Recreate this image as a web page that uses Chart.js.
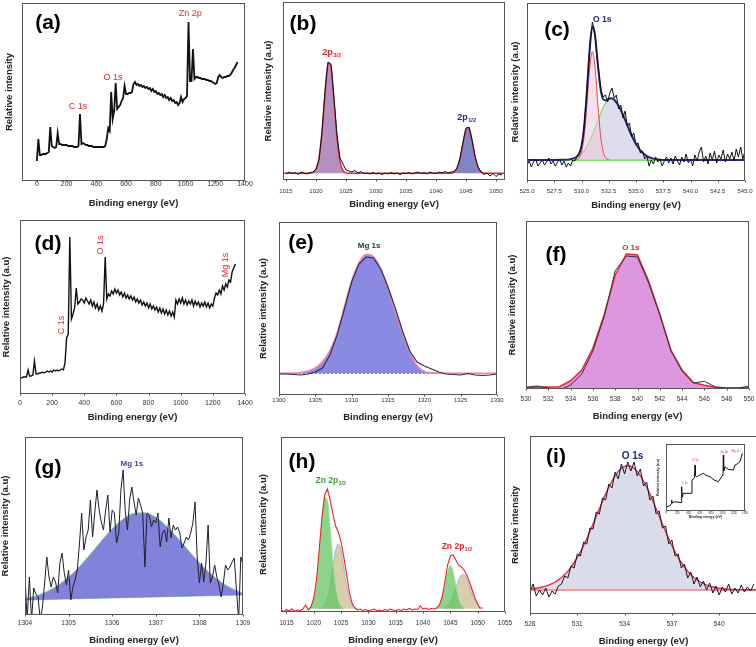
<!DOCTYPE html>
<html><head><meta charset="utf-8">
<script src="https://cdn.jsdelivr.net/npm/chart.js@4.4.1/dist/chart.umd.min.js"></script>
<style>
html,body{margin:0;padding:0;background:#fff;}
body{width:756px;height:647px;overflow:hidden;position:relative;}
canvas{position:absolute;}
</style></head><body>
<script>
// ---------------- DATA ----------------
// (a) survey, 0..1350 eV step 10
const aStart = 0, aStep = 10;
const aY = [20,42,26,26,27,27,27,28,29,54, 35,34,33,34,48,37,37,36,36,36, 36,35,35,35,35,34,34,34,35,67,
  37,38,37,36,36,35,35,35,34,34, 34,34,34,34,34,34,35,42,53,50, 89,62,70,98,72,74,76,80,83,95,
  87,87,88,88,89,97,99,96,97,95, 96,94,95,93,94,92,93,90,92,89, 90,87,88,86,87,84,86,83,84,81,
  83,80,81,78,79,76,78,84,79,82, 83,85,159,100,100,132,102,104,104,103, 103,102,102,102,101,101,100,100,99,98,
  97,98,104,106,104,103,104,104,105,105, 106,108,111,113,116,119];
const aTicks = [0,200,400,600,800,1000,1200,1400];
const aLabels = [{x:276,y:74,t:'C 1s'},{x:512,y:103,t:'O 1s'},{x:1031,y:167,t:'Zn 2p'}];

// (b) Zn 2p
const bStart = 1015, bStep = 0.5;
const bY = [6,8,6.5,7.5,5.5,8,7,6,7.5,8, 11,20,48,88,118,116,82,45,22,16, 10,9,8,9.5,7,8.5,6.5,7,6,7.5,
  6,7,5.5,7,6,7.5,6,7,5.5,7, 6.5,7.5,6,7,8,6.5,7.5,6,8,7, 6.5,8,7,8.5,7,8,8.5,12,22,38,
  52,53,40,24,13,8,5.5,7,4,6.5, 3.5,6,5];
const bFitX = [1014.5,1019,1019.5,1020,1020.5,1021,1021.5,1022,1022.5,1023,1023.5,1024,1024.5,1025,1025.5,1042.5,1043,1043.5,1044,1044.5,1045,1045.5,1046,1046.5,1047,1047.5,1048,1048.5,1051.5];
const bFitY = [6.7,6.7,7.4,10.7,22.0,48.4,87.2,116.6,112.9,79.3,41.7,18.7,9.6,7.2,6.7,6.7,7.9,11.7,21.2,36.7,50.6,52.1,40.0,23.9,13.0,8.3,7.0,6.7,6.7];
const bP1X = [1019.5,1020,1020.5,1021,1021.5,1022,1022.5,1023,1023.5,1024,1024.5,1025];
const bP1Y = [7.4,10.7,22.0,48.4,87.2,116.6,112.9,79.3,41.7,18.7,9.6,7.2];
const bP2X = [1043,1043.5,1044,1044.5,1045,1045.5,1046,1046.5,1047,1047.5,1048];
const bP2Y = [7.9,11.7,21.2,36.7,50.6,52.1,40.0,23.9,13.0,8.3,7.0];
const bTicks = [1015,1020,1025,1030,1035,1040,1045,1050];

// (c) O 1s (ZnO)
const cStart = 525, cStep = 0.2;
const cY = [16,20,14,19,22,15,18,21,16,19, 23,17,20,15,19,22,16,20,14,18,
  15,21,20,25,27,34,50,76,108,140, 159,150,126,108,90,84,86,79,88,93,
  83,86,72,76,63,70,55,58,44,48, 36,38,28,30,22,25,15,21,17,24,
  19,22,15,20,24,18,23,17,25,20, 16,24,19,27,18,22,15,26,20,29,
  34,19,25,17,28,21,30,18,26,22, 31,19,27,22,29,20,32,24,34,22, 30];
const cCompX = [528.5,529,529.5,529.75,530,530.25,530.5,530.75,531,531.25,531.5,531.75,532,532.25,532.5,532.75,533,533.5,534,534.5,535,535.5,536,536.5,537,537.5];
const cGreenY = [21.2,21.9,23.5,25.1,27.3,30.4,34.6,39.8,46,53,60.4,67.5,73.9,78.9,82,82.7,81.3,73.4,61.1,48,37,29.3,24.8,22.6,21.5,21.1];
const cEnvX = [525,528.5,529,529.5,529.75,530,530.25,530.5,530.75,531,531.25,531.5,531.75,532,532.25,532.5,532.75,533,533.5,534,534.5,535,535.5,536,536.5,537,537.5,545];
const cEnvY = [21,21.2,21.9,23.8,26.8,35,54.9,90.6,131.6,154.3,144.8,116.4,92,81.6,80.6,82.3,82.7,81.3,73.4,61.1,48,37,29.3,24.8,22.6,21.5,21.1,21];
const cRedX = [529.5,529.75,530,530.25,530.5,530.75,531,531.25,531.5,531.75,532,532.25,532.5];
const cRedY = [21.3,22.7,28.7,45.5,77,112.8,129.3,112.8,77,45.5,28.7,22.7,21.3];
const cTicks = [525,527.5,530,532.5,535,537.5,540,542.5,545];

// (d) survey, 0..1340 step 10
const dStart = 0, dStep = 10;
const dY = [16,16,17,17,17,24,18,18,19,33, 20,20,21,21,22,21,22,23,22,23, 22,24,23,24,23,24,25,24,31,56,
  60,157,75,80,86,106,90,92,95,94, 91,96,93,90,94,88,92,86,90,84, 88,83,90,137,95,100,98,103,100,105,
  101,104,99,102,97,101,96,99,95,98, 94,97,92,95,91,94,89,92,88,91, 86,90,85,88,84,87,82,86,81,85,
  80,84,79,83,78,82,77,94,90,95, 91,96,90,94,89,93,90,94,88,93, 89,92,87,91,88,92,87,91,86,90,
  88,96,101,99,104,100,108,104,110,107, 114,112,122,126,130];
const dLabels = [{x:259,y:69,t:'C 1s',rot:true},{x:498,y:149,t:'O 1s',rot:true},{x:1276,y:129,t:'Mg 1s',rot:true}];

// (e) Mg 1s (MgO)
const eStart = 1300, eStep = 1;
const eFit = [21.7,21.7,21.8,22.3,23.8,27,33.3,44,62,88,114,132,140.5,138,126,107,84,62,43,29,23.5,22.3,22,21.7,21.7,21.7,21.7,21.7,21.7,21.7,21.7];
const eY = [21,21,20.5,20,21,23,27,40,60,86,113,131,138,137,126,108,87,64,44,33,29,26,23,21,20.5,20,21.5,20,19.5,20,21];
const eTicks = [1300,1305,1310,1315,1320,1325,1330];

// (f) O 1s (MgO)
const fStart = 530, fStep = 1;
const fFit = [1.5,2,2,2.3,8.3,19,41,74,114,135,134,108,75,39,19,6.5,3.7,1.7,1,1,1.5];
const fY = [1.7,3,1,-1.3,4,15,38,72,118,133,132,106,74,38,18,6,7.7,2,1,1,2.7];
const fTicks = [530,532,534,536,538,540,542,544,546,548,550];

// (g) Mg 1s (composite)
const gStart = 1304, gStep = 0.05;
const gY = [38,-5,38,-5,27,21,18,-5,8,32, 58,38,28,38,33,22,52,62,42,30,
  45,15,28,35,45,72,102,65,78,85, 115,78,102,125,105,93,85,105,120,83,
  105,102,72,82,125,145,103,85,115,128, 113,100,117,110,102,48,102,100,88,95,
  92,102,68,82,85,73,97,77,90,85, 88,82,67,72,78,75,82,92,113,57,
  32,52,33,52,90,32,38,50,38,30, 18,32,50,45,48,53,57,25,-5,58, 50];
const gFitStart = 1304, gFitStep = 0.25;
const gFit = [16.5,19,23.5,29.7,38,48.5,60.9,74,86.3,96,101.7,102.2,97.7,88.8,77.2,64.6,52.2,41.5,33,26.5,22];
const gBase = [15,15.25,15.5,15.75,16,16.25,16.5,16.75,17,17.25,17.5,17.75,18,18.25,18.5,18.75,19,19.25,19.5,19.75,20];
const gTicks = [1304,1305,1306,1307,1308,1309];

// (h) Zn 2p (composite)
const hStart = 1014, hStep = 0.5;
const hY = [2,0.5,2.5,1,3,0.5,2,1.5,3,7, 2,5,14,32,62,95,117,123,112,98, 86,80,70,55,38,20,9,4,2,3,
  1.5,2.5,1,2,3,1.5,2,1,2.5,1.5, 3,2,1.5,2.5,1.5,3,2,3.5,2,3, 2.5,6,3,4,2.5,3.5,3,4,7,15,
  30,47,56,57,52,47,45,42,37,30, 22,14,8,3];
const hC1 = [4.0,6.3,13.4,30.0,58.5,92.1,114.4,111.7,85.6,52.0,25.8,11.3,5.5,3.8];       // from 1019
const hC2 = [3.6,4.4,7.1,13.9,26.7,44.6,61.4,68.3,61.4,44.6,26.7,13.9,7.1,4.4,3.5];      // from 1021
const hC3 = [4.2,7.0,14.1,26.7,40.5,46.7,40.5,26.7,14.1,7.0,4.2];                        // from 1042.5
const hC4 = [4.7,6.7,10.5,16.5,24.2,31.8,36.8,37.3,33.1,25.8,17.9,11.5,7.3,5.0,3.9];     // from 1044
const hTicks = [1015,1020,1025,1030,1035,1040,1045,1050,1055];

// (i) O 1s (composite)
const iStart = 528, iStep = 0.2;
const iY = [22,30,18,24,19,26,17,23,20,28, 30,38,36,48,46,60,58,72,70,86,
  85,102,100,116,114,130,126,142,135,150, 140,152,143,152,138,145,128,132,114,118,
  100,103,86,88,70,74,58,60,46,50, 36,42,30,37,27,33,24,31,21,28,
  19,27,22,30,20,26,21,29,22,27, 23,30];
const iFit = [25.0,25.4,25.8,26.3,27.0,27.9,28.9,30.3,32.0,34.1,36.5,39.4,42.9,46.9,51.5,56.5,62.2,68.6,75.3,82.5,
  89.9,97.6,105.3,112.8,120.2,127.0,133.0,138.3,142.6,145.7,147.7,148.3,
  147.7,145.7,142.6,138.3,133.0,127.0,120.2,112.8,105.3,97.6,89.9,82.5,75.3,68.6,62.2,56.5,51.5,46.9,42.9,39.4,
  36.5,34.1,32.0,30.3,28.9,27.9,27.0,26.3,25.8,25.4,25.0, 24.8,24.6,24.5,24.4,24.4,24.3,24.3,24.3,24.3];
const iTicks = [528,531,534,537,540];

// inset survey
const inX = [12,60,100,101,110,160,270,278,285,307,455,460,505,514,523,544,600,661,700,780,850,927,987,1010,1016,1022,1046,1104,1193,1223,1260,1311,1352];
const inY = [4.3,5,7.7,11,8,9.3,8.3,24.3,14,17.7,17.7,31,33,46,35,34.3,36,37.7,36,34.3,31,29.3,34.3,36,56,40,44.3,41.7,41,46,47,49.3,57.7];
const inTicks = [0,200,400,600,800,1000,1200,1400];

// ---------------- HELPERS ----------------
const FONT = '"Liberation Sans", Arial, Helvetica, sans-serif';
const RED = '#e8262f', NAVY = '#23287c';
function seq(start, step, ys) { return ys.map((y, i) => ({x: +(start + step * i).toFixed(4), y})); }
function pairs(xs, ys) { return ys.map((y, i) => ({x: xs[i], y})); }
function line(data, color, width, extra) {
  return Object.assign({data, borderColor: color, borderWidth: width, pointRadius: 0, pointHoverRadius: 0, fill: false, tension: 0}, extra || {});
}

const decor = {
  id: 'decor',
  afterDraw(chart, args, o) {
    const ctx = chart.ctx, a = chart.chartArea, xs = chart.scales.x, ys = chart.scales.y;
    ctx.save();
    const l = Math.round(a.left) + 0.5, r = Math.round(a.right) - 0.5, t = Math.round(a.top) + 0.5, b = Math.round(a.bottom) - 0.5;
    ctx.strokeStyle = o.frame || '#555'; ctx.lineWidth = 1;
    ctx.strokeRect(l, t, r - l, b - t);
    const tl = o.tickLen == null ? 2 : o.tickLen;
    ctx.beginPath();
    xs.ticks.forEach(tk => { const px = Math.round(xs.getPixelForValue(tk.value)) + 0.5; ctx.moveTo(px, b); ctx.lineTo(px, b + tl); });
    ctx.stroke();
    if (o.letter) {
      ctx.font = 'bold 21px ' + FONT; ctx.fillStyle = '#000'; ctx.textAlign = 'center'; ctx.textBaseline = 'middle';
      ctx.fillText(o.letter.t, a.left + o.letter.dx, a.top + o.letter.dy);
    }
    (o.labels || []).forEach(lb => {
      const px = xs.getPixelForValue(lb.x), py = ys.getPixelForValue(lb.y);
      const sz = lb.s || o.labelSize || 9, wt = (lb.w || o.labelWeight || 'normal');
      ctx.save(); ctx.translate(px, py); if (lb.rot) ctx.rotate(-Math.PI / 2);
      ctx.fillStyle = lb.c || o.labelColor || RED; ctx.textBaseline = 'middle'; ctx.textAlign = 'left';
      const f1 = wt + ' ' + sz + 'px ' + FONT, f2 = wt + ' ' + (sz * 0.62).toFixed(1) + 'px ' + FONT;
      ctx.font = f1; const w1 = ctx.measureText(lb.t).width;
      let w2 = 0; if (lb.sub) { ctx.font = f2; w2 = ctx.measureText(lb.sub).width + 0.5; }
      const x0 = -(w1 + w2) / 2;
      ctx.font = f1; ctx.fillText(lb.t, x0, 0);
      if (lb.sub) { ctx.font = f2; ctx.fillText(lb.sub, x0 + w1 + 0.5, sz * 0.32); }
      ctx.restore();
    });
    ctx.restore();
  }
};
Chart.register(decor);

function panel(p) {
  const g = p.geo, tf = p.titleSize || 9.5, lh = tf * 1.2, tk = p.tickSize || 6.5, tlh = tk * 1.2;
  const cLeft = Math.round(g.yt - lh / 2), cTop = g.T - 2, cRight = g.R + 14, cBottom = Math.round(g.xt + lh / 2);
  const W = cRight - cLeft, H = cBottom - cTop, wY = g.L - cLeft, hX = cBottom - g.B;
  const cv = document.createElement('canvas');
  cv.width = W; cv.height = H;
  cv.style.left = cLeft + 'px'; cv.style.top = cTop + 'px'; cv.style.width = W + 'px'; cv.style.height = H + 'px';
  document.body.appendChild(cv);
  new Chart(cv, {
    type: 'line',
    data: {datasets: p.datasets},
    options: {
      responsive: false, animation: false, devicePixelRatio: 1,
      events: [],
      layout: {padding: {top: 2, right: 14, left: 0, bottom: 0}},
      plugins: {legend: {display: false}, tooltip: {enabled: false},
        decor: {letter: p.letter, labels: p.labels, labelSize: p.labelSize, labelWeight: p.labelWeight, labelColor: p.labelColor, tickLen: p.tickLen, frame: p.frame}},
      scales: {
        x: {type: 'linear', min: p.xmin, max: p.xmax,
          afterBuildTicks: s => { s.ticks = p.ticks.map(v => ({value: v})); },
          ticks: {font: {family: FONT, size: tk}, color: '#333', padding: g.tc - g.B - tlh / 2, maxRotation: 0, autoSkip: false,
            callback: p.fmt || (v => String(v))},
          grid: {display: false, drawTicks: false}, border: {display: false},
          title: {display: true, text: p.xtitle || 'Binding energy (eV)', font: {family: FONT, size: tf, weight: 'bold'}, color: '#222', padding: {top: 0, bottom: 0}},
          afterFit: s => { s.height = hX; s.paddingLeft = 0; s.paddingRight = 0; }},
        y: {type: 'linear', min: 0, max: g.B - g.T,
          ticks: {display: false}, grid: {display: false, drawTicks: false}, border: {display: false},
          title: {display: true, text: p.ytitle, font: {family: FONT, size: tf, weight: 'bold'}, color: '#222', padding: {top: 0, bottom: 0}},
          afterFit: s => { s.width = wY; s.paddingTop = 0; s.paddingBottom = 0; }}
      }
    }
  });
}

const YT = 'Relative intensity (a.u)';
const mono = {cubicInterpolationMode: 'monotone'};

// (a)
panel({geo: {L: 22, R: 245, T: 3, B: 181, yt: 10, xt: 203, tc: 184.5}, xmin: -100, xmax: 1400, ticks: aTicks, tickSize: 7,
  ytitle: 'Relative intensity', letter: {t: '(a)', dx: 26, dy: 20}, labels: aLabels, labelSize: 9,
  datasets: [line(seq(aStart, aStep, aY), '#111', 1.8)]});

// (b)
panel({geo: {L: 283, R: 505, T: 2, B: 180, yt: 269, xt: 204, tc: 191.5}, xmin: 1014.5, xmax: 1051.5, ticks: bTicks, tickSize: 6,
  ytitle: YT, letter: {t: '(b)', dx: 20, dy: 22}, labelWeight: 'bold',
  labels: [{x: 1022.6, y: 127.3, t: '2p', sub: '3/2', c: RED, s: 9}, {x: 1045.1, y: 62.7, t: '2p', sub: '1/2', c: NAVY, s: 9}],
  datasets: [
    line(seq(bStart, bStep, bY), '#111', 1),
    line(pairs(bFitX, bFitY), RED, 1.4, mono),
    line(pairs(bP1X, bP1Y), 'rgba(0,0,0,0)', 0, Object.assign({fill: {value: 6.7}, backgroundColor: 'rgba(165,118,178,0.82)'}, mono)),
    line(pairs(bP2X, bP2Y), 'rgba(0,0,0,0)', 0, Object.assign({fill: {value: 6.7}, backgroundColor: 'rgba(104,104,188,0.82)'}, mono))
  ]});

// (c)
panel({geo: {L: 527, R: 745, T: 3, B: 181, yt: 516, xt: 205, tc: 191}, xmin: 525, xmax: 545, ticks: cTicks, tickSize: 6,
  fmt: v => v.toFixed(1), ytitle: YT, letter: {t: '(c)', dx: 30, dy: 27}, labelWeight: 'bold',
  labels: [{x: 531.9, y: 161, t: 'O 1s', c: NAVY, s: 8.5}],
  datasets: [
    line(seq(cStart, cStep, cY), '#111', 1),
    line(pairs(cEnvX, cEnvY), NAVY, 2, mono),
    line(pairs(cRedX, cRedY), '#e8404f', 1, Object.assign({fill: {value: 21}, backgroundColor: 'rgba(236,200,215,0.55)'}, mono)),
    line(pairs(cCompX, cGreenY), '#74dc62', 1.2, Object.assign({fill: {value: 21}, backgroundColor: 'rgba(200,200,226,0.62)'}, mono)),
    line(pairs([528, 538], [21, 21]), '#7be06a', 2),
    line(pairs([525, 545], [21, 21]), NAVY, 2)
  ]});

// (d)
panel({geo: {L: 20, R: 245, T: 220, B: 394, yt: 7, xt: 417, tc: 403}, xmin: 0, xmax: 1400, ticks: aTicks, tickSize: 7,
  ytitle: YT, letter: {t: '(d)', dx: 28, dy: 24}, labels: dLabels, labelSize: 9,
  datasets: [line(seq(dStart, dStep, dY), '#111', 1.4)]});

// (e)
panel({geo: {L: 279, R: 497, T: 222, B: 395, yt: 264, xt: 417, tc: 400.5}, xmin: 1300, xmax: 1330, ticks: eTicks, tickSize: 6,
  ytitle: YT, letter: {t: '(e)', dx: 22, dy: 21}, labelWeight: 'bold',
  labels: [{x: 1312.4, y: 149, t: 'Mg 1s', c: '#333', s: 8}],
  datasets: [
    line(seq(eStart, eStep, eY), '#2b2b45', 1.1),
    line(seq(eStart, eStep, eFit), 'rgba(236,130,175,0.9)', 1.8, Object.assign({fill: {value: 21.7}, backgroundColor: 'rgba(118,118,222,0.85)'}, mono)),
    line(pairs([1300, 1330], [21.7, 21.7]), '#e03050', 1, {borderDash: [2, 2]})
  ]});

// (f)
panel({geo: {L: 526, R: 749, T: 221, B: 389, yt: 513, xt: 416, tc: 399}, xmin: 530, xmax: 550, ticks: fTicks,
  ytitle: YT, letter: {t: '(f)', dx: 30, dy: 34}, labelWeight: 'bold',
  labels: [{x: 539.4, y: 141, t: 'O 1s', c: RED, s: 8}],
  datasets: [
    line(seq(fStart, fStep, fY), '#333', 1),
    line(seq(fStart, fStep, fFit), '#ec2535', 1.4, {fill: {value: 0.3}, backgroundColor: 'rgb(222,150,222)'}),
    line(pairs([530, 550], [0.3, 0.3]), '#6ee06e', 1.5)
  ]});

// (g)
panel({geo: {L: 25, R: 243, T: 437, B: 615, yt: 6, xt: 640, tc: 623}, xmin: 1304, xmax: 1309, ticks: gTicks,
  ytitle: YT, letter: {t: '(g)', dx: 23, dy: 31}, labelWeight: 'bold',
  labels: [{x: 1306.45, y: 151.7, t: 'Mg 1s', c: '#4242a0', s: 8}],
  datasets: [
    line(seq(gStart, gStep, gY), '#1e1e2e', 1),
    line(seq(gFitStart, gFitStep, gFit), '#8ed88e', 1, Object.assign({fill: '+1', backgroundColor: 'rgba(108,108,212,0.85)'}, mono)),
    line(seq(gFitStart, gFitStep, gBase), '#8ed88e', 1)
  ]});

// (h)
panel({geo: {L: 281, R: 505, T: 437, B: 612, yt: 264, xt: 640, tc: 623}, xmin: 1014, xmax: 1055, ticks: hTicks,
  ytitle: YT, letter: {t: '(h)', dx: 21, dy: 25}, labelWeight: 'bold',
  labels: [{x: 1023.1, y: 131.3, t: 'Zn 2p', sub: '3/2', c: '#3a9a3a', s: 8.5}, {x: 1046.2, y: 65.3, t: 'Zn 2p', sub: '1/2', c: RED, s: 8.5}],
  datasets: [
    line(seq(hStart, hStep, hY), '#e82028', 1.1),
    line(seq(1019, 0.5, hC1), 'rgba(160,222,160,0.9)', 0.8, Object.assign({fill: {value: 3.3}, backgroundColor: 'rgba(95,195,95,0.72)'}, mono)),
    line(seq(1021, 0.5, hC2), 'rgba(150,150,215,0.9)', 0.8, Object.assign({fill: {value: 3.3}, backgroundColor: 'rgba(205,195,150,0.8)'}, mono)),
    line(seq(1042.5, 0.5, hC3), 'rgba(160,222,160,0.9)', 0.8, Object.assign({fill: {value: 3.3}, backgroundColor: 'rgba(95,195,95,0.72)'}, mono)),
    line(seq(1044, 0.5, hC4), 'rgba(150,150,215,0.9)', 0.8, Object.assign({fill: {value: 3.3}, backgroundColor: 'rgba(205,195,150,0.8)'}, mono))
  ]});

// (i)
panel({geo: {L: 530, R: 757, T: 436, B: 614, yt: 516, xt: 641, tc: 624}, xmin: 528, xmax: 542.4, ticks: iTicks,
  ytitle: 'Relative intensity', letter: {t: '(i)', dx: 26, dy: 21}, labelWeight: 'bold',
  labels: [{x: 534.5, y: 157.6, t: 'O 1s', c: NAVY, s: 10}],
  datasets: [
    line(seq(iStart, iStep, iY), '#15152a', 1),
    line(seq(iStart, iStep, iFit), '#ea3040', 1.4, Object.assign({fill: {value: 24.3}, backgroundColor: 'rgba(214,216,232,0.9)'}, mono)),
    line(pairs([528, 542.4], [24.3, 24.3]), '#ea3040', 1.4)
  ]});

// inset in (i)
panel({geo: {L: 666, R: 745, T: 444, B: 511, yt: 658.5, xt: 517, tc: 513.5}, xmin: 0, xmax: 1400, ticks: inTicks,
  titleSize: 3.5, tickSize: 2.8, tickLen: 1, ytitle: YT, labelSize: 3,
  labels: [{x: 330, y: 28, t: 'C 1s'}, {x: 520, y: 51, t: 'O 1s'}, {x: 1035, y: 59, t: 'Zn 2p'}, {x: 1230, y: 60, t: 'Mg 1s'}],
  datasets: [line(pairs(inX, inY), '#111', 1)]});
</script>
</body></html>
